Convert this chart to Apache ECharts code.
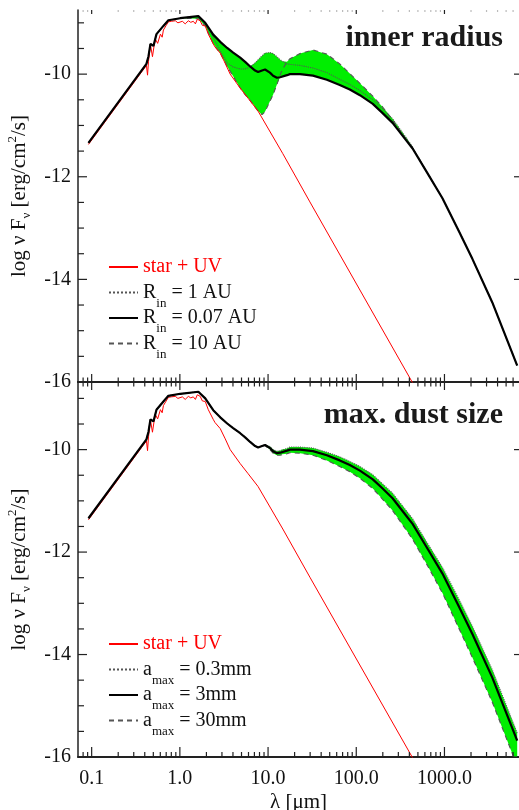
<!DOCTYPE html>
<html>
<head>
<meta charset="utf-8">
<title>SED models</title>
<script src="https://cdn.jsdelivr.net/npm/echarts@6/dist/echarts.min.js"></script>
<style>
  html, body { margin: 0; padding: 0; background: #fff; }
  #main { width: 519px; height: 810px; }
</style>
</head>
<body>
<div id="main"></div>
<script>
// star + UV (red), wavelength in micron, log nuFnu in erg/cm2/s
var lamStar = [0.092, 0.418, 0.43, 0.441, 0.464, 0.489, 0.51, 0.529, 0.56, 0.602, 0.63, 0.651, 0.7, 0.741,
    0.8, 0.889, 0.95, 1.067, 1.15, 1.248, 1.33, 1.42, 1.5, 1.577, 1.7, 1.8, 1.94, 2.1, 2.39, 2.5,
    2.87, 3.27, 3.72, 4.82, 5.94, 7.7, 14.7, 29.8, 520];
var fluxStar = [-11.37, -9.83, -10.02, -9.75, -9.42, -9.66, -9.45, -9.32, -9.40, -9.22, -9.28, -9.14, -9.05, -8.98,
    -8.97, -8.96, -9.00, -8.97, -9.02, -8.96, -8.99, -8.97, -9.02, -8.93, -8.96, -9.05, -9.06, -9.22, -9.41, -9.47,
    -9.59, -9.79, -10.00, -10.27, -10.47, -10.72, -11.55, -12.49, -16.25];

// wavelength grid of the disk models
var lamModel = [0.092, 0.418, 0.441, 0.464, 0.502, 0.543, 0.651, 0.741, 1.01, 1.62,
    1.94, 2.39, 2.87, 3.44, 4.02, 4.83, 5.5, 6.26, 7.13, 7.71,
    8.55, 9.25, 10.5, 11.4, 12.6, 13.7, 14.4, 16.4, 17.7, 23,
    32.3, 46.4, 65, 84.5, 110, 154, 199, 258, 372, 435,
    626, 949, 1477, 2072, 3487, 6680];

// reference model: R_in = 0.07 AU, a_max = 3mm
var fluxRef = [-11.34, -9.80, -9.65, -9.41, -9.45, -9.22, -9.06, -8.95, -8.91, -8.87,
    -9.00, -9.23, -9.37, -9.49, -9.58, -9.68, -9.76, -9.85, -9.93, -9.96,
    -9.93, -9.91, -9.97, -10.03, -10.07, -10.06, -10.04, -10.02, -10.00, -10.00,
    -10.03, -10.11, -10.21, -10.30, -10.41, -10.58, -10.76, -10.95, -11.30, -11.45,
    -11.90, -12.42, -13.08, -13.60, -14.45, -15.68];

// R_in = 1 AU
var fluxRin1 = [-11.34, -9.80, -9.65, -9.41, -9.45, -9.22, -9.06, -8.95, -8.91, -8.87,
    -9.02, -9.28, -9.55, -9.78, -9.86, -9.90, -9.90, -9.86, -9.78, -9.72,
    -9.64, -9.59, -9.58, -9.60, -9.66, -9.72, -9.75, -9.80, -9.81, -9.83,
    -9.88, -9.97, -10.10, -10.20, -10.32, -10.50, -10.68, -10.87, -11.25, -11.42,
    -11.90, -12.42, -13.08, -13.60, -14.45, -15.68];

// R_in = 10 AU
var fluxRin10 = [-11.34, -9.80, -9.65, -9.41, -9.45, -9.22, -9.06, -8.95, -8.91, -8.92,
    -9.06, -9.41, -9.59, -9.85, -10.04, -10.27, -10.40, -10.51, -10.64, -10.72,
    -10.79, -10.73, -10.53, -10.40, -10.20, -10.02, -9.92, -9.76, -9.70, -9.60,
    -9.53, -9.61, -9.80, -9.99, -10.18, -10.43, -10.64, -10.90, -11.28, -11.44,
    -11.90, -12.42, -13.08, -13.60, -14.45, -15.68];

// a_max = 0.3mm
var fluxAmax03 = [-11.34, -9.80, -9.65, -9.41, -9.45, -9.22, -9.06, -8.95, -8.91, -8.87,
    -9.00, -9.23, -9.37, -9.49, -9.58, -9.68, -9.76, -9.85, -9.93, -9.96,
    -9.93, -9.90, -9.94, -10.00, -10.03, -10.02, -10.00, -9.98, -9.95, -9.95,
    -9.97, -10.05, -10.14, -10.23, -10.33, -10.49, -10.67, -10.85, -11.20, -11.35,
    -11.80, -12.30, -12.94, -13.45, -14.30, -15.53];

// a_max = 30mm
var fluxAmax30 = [-11.34, -9.80, -9.65, -9.41, -9.45, -9.22, -9.06, -8.95, -8.91, -8.87,
    -9.00, -9.23, -9.37, -9.49, -9.58, -9.68, -9.76, -9.85, -9.93, -9.96,
    -9.93, -9.92, -10.00, -10.07, -10.11, -10.11, -10.09, -10.08, -10.06, -10.07,
    -10.11, -10.21, -10.33, -10.43, -10.56, -10.76, -10.97, -11.19, -11.58, -11.75,
    -12.23, -12.80, -13.51, -14.06, -14.93, -16.18];

// ticks and labels
var xMajorTicks = [0.1, 1, 10, 100, 1000];
var xTickLabels = ['0.1', '1.0', '10.0', '100.0', '1000.0'];
var xMinorTicks = [0.08, 0.09, 0.2, 0.3, 0.4, 0.5, 0.6, 0.7, 0.8, 0.9,
    2, 3, 4, 5, 6, 7, 8, 9, 20, 30, 40, 50, 60, 70, 80, 90,
    200, 300, 400, 500, 600, 700, 800, 900, 2000, 3000, 4000, 5000, 6000];
var yMajorTicks = [-16, -14, -12, -10];
var yMinorTicks = [-15.5, -15, -14.5, -13.5, -13, -12.5, -11.5, -11, -10.5, -9.5, -9];

var FONT = 'Liberation Serif';
var GREEN = '#00ee00';
var INK = '#111';

var SED = function () {

    var pairs = function (xs, ys) {
        return xs.map(function (x, i) { return [x, ys[i]]; });
    };

    //x轴：对数坐标，刻度线用custom系列画
    var xAxisOf = function (grid, pos, extra) {
        var ax = {
            type: 'log', logBase: 10, gridIndex: grid, position: pos,
            min: 0.07, max: 7000,
            axisLine: { show: true, onZero: false, lineStyle: { color: '#222', width: 2 } },
            axisTick: { show: false },
            axisLabel: { show: false },
            splitLine: { show: false }
        };
        return Object.assign(ax, extra || {});
    };

    var yAxisOf = function (grid, pos, max, extra) {
        var ax = {
            type: 'value', gridIndex: grid, position: pos,
            min: -16, max: max,
            axisLine: { show: false, onZero: false },
            axisTick: { show: false },
            axisLabel: { show: false },
            splitLine: { show: false }
        };
        return Object.assign(ax, extra || {});
    };

    var yName = {
        name: '{m|log ν F}{s|ν}{m| [erg/cm}{p|2}{m|/s]}',
        nameLocation: 'middle', nameRotate: 90, nameGap: 42,
        nameTextStyle: {
            fontFamily: FONT, fontSize: 21, color: INK,
            rich: {
                m: { fontFamily: FONT, fontSize: 21, height: 26, lineHeight: 26, color: INK },
                s: { fontFamily: FONT, fontSize: 13, height: 12, verticalAlign: 'bottom', color: INK },
                p: { fontFamily: FONT, fontSize: 13, height: 12, verticalAlign: 'top', color: INK }
            }
        }
    };

    var yLabels = {
        show: true, customValues: yMajorTicks, margin: 7,
        fontFamily: FONT, fontSize: 20, color: INK
    };

    var legendLabel = function (name) {
        if (name === 'star + UV') {
            return '{r|star + UV}{s| }';
        }
        var m = name.match(/^(\w)_(\w+)( = .*)$/);
        return '{m|' + m[1] + '}{s|' + m[2] + '}{m|' + m[3] + '}';
    };

    var legendOf = function (top, names) {
        return {
            left: 108, top: top, orient: 'vertical', padding: 0, itemGap: -5,
            itemWidth: 29, itemHeight: 14, selectedMode: false,
            itemStyle: { opacity: 0, color: 'rgba(0,0,0,0)', borderWidth: 0 },
            data: names,
            formatter: legendLabel,
            textStyle: {
                fontFamily: FONT, fontSize: 20, color: INK,
                rich: {
                    m: { fontFamily: FONT, fontSize: 20, height: 26, lineHeight: 26, color: INK },
                    r: { fontFamily: FONT, fontSize: 20, height: 26, lineHeight: 26, color: '#ff0000' },
                    s: { fontFamily: FONT, fontSize: 13, height: 4, verticalAlign: 'bottom', color: INK }
                }
            }
        };
    };

    //绿色区域：几个模型之间的包络
    var bandOf = function (xIdx, yIdx, models) {
        var upper = [], lower = [];
        for (var i = 0; i < lamModel.length; i++) {
            var vals = models.map(function (m) { return m[i]; });
            upper.push([lamModel[i], Math.max.apply(null, vals)]);
            lower.push([lamModel[i], Math.min.apply(null, vals)]);
        }
        return {
            type: 'custom', name: 'envelope', xAxisIndex: xIdx, yAxisIndex: yIdx,
            silent: true, z: 1,
            data: [[1, -12]],
            renderItem: function (params, api) {
                var pts = upper.concat(lower.slice().reverse()).map(function (p) {
                    return api.coord(p);
                });
                var cs = params.coordSys;
                return {
                    type: 'polygon',
                    shape: { points: pts },
                    style: { fill: GREEN, stroke: null },
                    clipPath: { type: 'rect', shape: { x: cs.x, y: cs.y, width: cs.width, height: cs.height } }
                };
            }
        };
    };

    //刻度线：side = bottom/top/left/right，都朝里
    var tickMarks = function (xIdx, yIdx, ticks, side, len, color) {
        var isX = side === 'bottom' || side === 'top';
        return {
            type: 'custom', name: 'ticks', xAxisIndex: xIdx, yAxisIndex: yIdx,
            silent: true, z: 6,
            data: ticks.map(function (t) { return isX ? [t, -12] : [1, t]; }),
            renderItem: function (params, api) {
                var cs = params.coordSys;
                var p = api.coord([api.value(0), api.value(1)]);
                var s;
                if (side === 'bottom') {
                    s = { x1: p[0], y1: cs.y + cs.height, x2: p[0], y2: cs.y + cs.height - len };
                } else if (side === 'top') {
                    s = { x1: p[0], y1: cs.y, x2: p[0], y2: cs.y + len };
                } else if (side === 'left') {
                    s = { x1: cs.x, y1: p[1], x2: cs.x + len, y2: p[1] };
                } else {
                    s = { x1: cs.x + cs.width, y1: p[1], x2: cs.x + cs.width - len, y2: p[1] };
                }
                return { type: 'line', shape: s, style: { stroke: color || '#222', lineWidth: 1.2 } };
            }
        };
    };

    var lineOf = function (name, xIdx, yIdx, xs, ys, color, width, type) {
        return {
            name: name, type: 'line', xAxisIndex: xIdx, yAxisIndex: yIdx,
            data: pairs(xs, ys),
            symbol: 'none', showSymbol: false, smooth: false, z: 2,
            lineStyle: { color: color, width: width, type: type || 'solid' },
            itemStyle: { color: color },
            emphasis: { disabled: true }
        };
    };

    var initCharts = function () {
        var myChart = echarts.init(document.getElementById('main'), null, { renderer: 'canvas' });

        var option = {
            animation: false,
            backgroundColor: '#fff',
            textStyle: { fontFamily: FONT },
            title: [
                { text: 'inner radius', right: 16, top: 23, padding: 0,
                    textStyle: { fontFamily: FONT, fontWeight: 'bold', fontSize: 30, lineHeight: 30, color: '#1a1a1a' } },
                { text: 'max. dust size', right: 16, top: 400, padding: 0,
                    textStyle: { fontFamily: FONT, fontWeight: 'bold', fontSize: 30, lineHeight: 30, color: '#1a1a1a' } }
            ],
            legend: [
                legendOf(254, ['star + UV', 'R_in = 1 AU', 'R_in = 0.07 AU', 'R_in = 10 AU']),
                legendOf(631, ['star + UV', 'a_max = 0.3mm', 'a_max = 3mm', 'a_max = 30mm'])
            ],
            grid: [
                { left: 78, right: 0, top: 10, height: 372, outerBoundsMode: 'none', containLabel: false },
                { left: 78, right: 0, top: 382, height: 375, outerBoundsMode: 'none', containLabel: false }
            ],
            xAxis: [
                xAxisOf(0, 'bottom'),
                xAxisOf(0, 'top', { axisLine: { show: false } }),
                xAxisOf(1, 'bottom', {
                    axisLabel: {
                        show: true, customValues: xMajorTicks, margin: 12,
                        fontFamily: FONT, fontSize: 20, color: INK,
                        formatter: function (v) {
                            for (var i = 0; i < xMajorTicks.length; i++) {
                                if (Math.abs(Math.log10(v / xMajorTicks[i])) < 0.01) return xTickLabels[i];
                            }
                            return '';
                        }
                    },
                    name: 'λ [μm]', nameLocation: 'middle', nameGap: 35,
                    nameTextStyle: { fontFamily: FONT, fontSize: 21, color: INK }
                }),
                xAxisOf(1, 'top')
            ],
            yAxis: [
                yAxisOf(0, 'left', -8.75, Object.assign({
                    axisLine: { show: true, onZero: false, lineStyle: { color: '#222', width: 1.5 } },
                    axisLabel: yLabels
                }, yName)),
                yAxisOf(1, 'left', -8.68, Object.assign({
                    axisLine: { show: true, onZero: false, lineStyle: { color: '#222', width: 1.5 } },
                    axisLabel: yLabels
                }, yName))
            ],
            series: [
                bandOf(0, 0, [fluxRef, fluxRin1, fluxRin10]),
                lineOf('R_in = 1 AU', 0, 0, lamModel, fluxRin1, '#555', 1.1, 'dotted'),
                lineOf('R_in = 10 AU', 0, 0, lamModel, fluxRin10, '#555', 1.1, [5, 4]),
                lineOf('star + UV', 0, 0, lamStar, fluxStar, '#ff0000', 1),
                lineOf('R_in = 0.07 AU', 0, 0, lamModel, fluxRef, '#000', 2.2),

                bandOf(2, 1, [fluxRef, fluxAmax03, fluxAmax30]),
                lineOf('a_max = 0.3mm', 2, 1, lamModel, fluxAmax03, '#555', 1.1, 'dotted'),
                lineOf('a_max = 30mm', 2, 1, lamModel, fluxAmax30, '#555', 1.1, [5, 4]),
                lineOf('star + UV', 2, 1, lamStar, fluxStar, '#ff0000', 1),
                lineOf('a_max = 3mm', 2, 1, lamModel, fluxRef, '#000', 2.2),

                // 上图刻度
                tickMarks(0, 0, xMajorTicks, 'bottom', 8),
                tickMarks(0, 0, xMinorTicks, 'bottom', 4.5),
                tickMarks(0, 0, xMajorTicks, 'top', 4),
                tickMarks(0, 0, xMinorTicks, 'top', 2, '#bbb'),
                tickMarks(0, 0, yMajorTicks, 'left', 9),
                tickMarks(0, 0, yMinorTicks, 'left', 6),
                tickMarks(0, 0, yMajorTicks, 'right', 5),
                // 下图刻度
                tickMarks(2, 1, xMajorTicks, 'bottom', 10),
                tickMarks(2, 1, xMinorTicks, 'bottom', 5),
                tickMarks(2, 1, xMajorTicks, 'top', 8),
                tickMarks(2, 1, xMinorTicks, 'top', 4.5),
                tickMarks(2, 1, yMajorTicks, 'left', 9),
                tickMarks(2, 1, yMinorTicks, 'left', 6),
                tickMarks(2, 1, yMajorTicks, 'right', 5)
            ]
        };

        myChart.setOption(option);
    };

    return {
        init: function () {
            initCharts();
        }
    };
}();

SED.init();
</script>
</body>
</html>
